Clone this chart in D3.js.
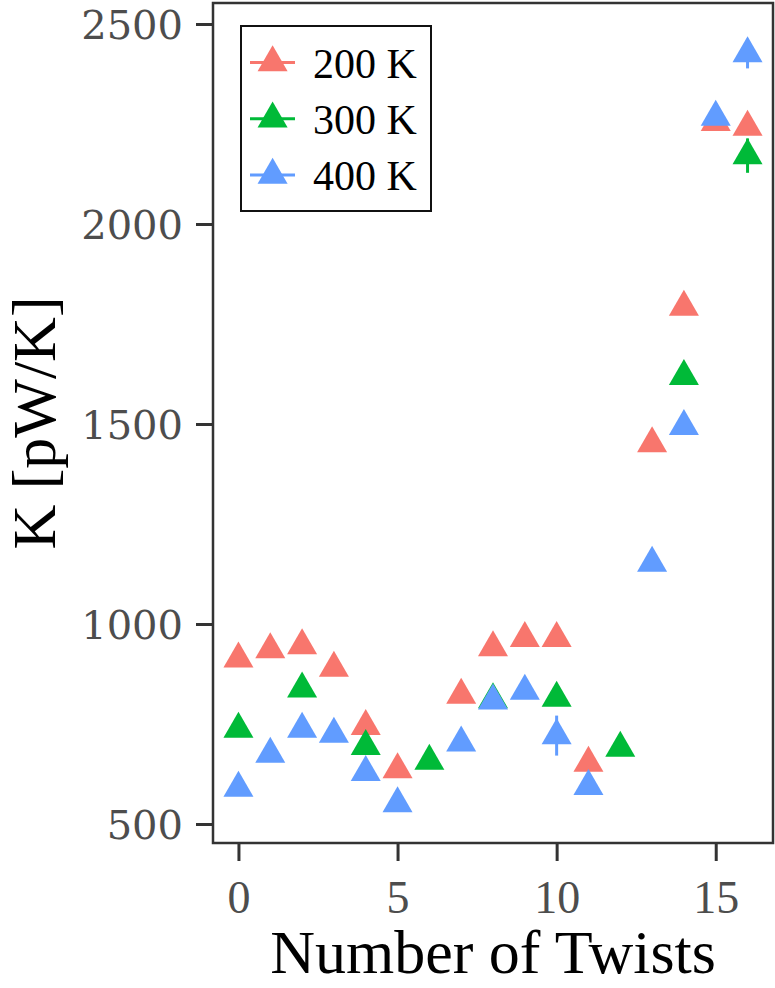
<!DOCTYPE html>
<html>
<head>
<meta charset="utf-8">
<script src="https://cdn.jsdelivr.net/npm/d3@7"></script>
<style>
  body { margin: 0; background: #fff; }
</style>
</head>
<body>
<script>
// Данные: значения
const twists = [0, 1, 2, 3, 4, 5, 6, 7, 8, 9, 10, 11, 12, 13, 14, 15, 16];
const k200 = [913, 936, 946, 890, 744, 636, null, 822, 941, 964, 964, 652, null, 1451, 1792, 2254, 2242];
const k300 = [737, null, 838, null, 694, null, 657, null, 811, null, 815, null, 690, null, 1619, null, 2171];
const k400 = [590, 675, 737, 725, 629, 551, null, 703, 808, 832, 721, 594, null, 1152, 1494, 2267, 2426];
const err200 = [12, 12, 12, 12, 12, 12, null, 12, 12, 12, 12, 12, null, 15, 15, 15, 15];
const err300 = [12, null, 12, null, 12, null, 12, null, 12, null, 12, null, 12, null, 15, null, 43];
const err400 = [12, 12, 12, 12, 12, 12, null, 12, 12, 12, 50, 12, null, 15, 15, 15, 37];
const seriesNames = ["200 K", "300 K", "400 K"];
const seriesColors = ["#F8766D", "#00BA38", "#619CFF"];
const xTicks = [0, 5, 10, 15];
const yTicks = [500, 1000, 1500, 2000, 2500];

const width = 775, height = 988;
const panel = {left: 213, right: 773, top: 3, bottom: 843};

const svg = d3.select("body")
    .append("svg")
    .attr("width", width)
    .attr("height", height);

const x = d3.scaleLinear().domain([-0.8, 16.8]).range([panel.left, panel.right]);
const y = d3.scaleLinear().domain([452.5, 2552.5]).range([panel.bottom, panel.top]);

const series = [k200, k300, k400].map(function (vals, i) {
    const errs = [err200, err300, err400][i];
    return {
        name: seriesNames[i],
        color: seriesColors[i],
        points: twists
            .map(function (t, j) { return {t: t, v: vals[j], e: errs[j]}; })
            .filter(function (d) { return d.v !== null; })
    };
});

// оси
const xAxis = svg.append("g")
    .attr("transform", "translate(0," + panel.bottom + ")")
    .call(d3.axisBottom(x).tickValues(xTicks).tickSize(18).tickSizeOuter(0));
xAxis.select(".domain").remove();
xAxis.selectAll("line").attr("stroke", "#333").attr("stroke-width", 3);
xAxis.selectAll("text")
    .attr("y", 70)
    .attr("dy", null)
    .attr("fill", "#4d4d4d")
    .attr("font-family", "Liberation Serif")
    .attr("font-size", "46px");

const yAxis = svg.append("g")
    .attr("transform", "translate(" + panel.left + ",0)")
    .call(d3.axisLeft(y).tickValues(yTicks).tickFormat(d3.format("d")).tickSize(17).tickSizeOuter(0));
yAxis.select(".domain").remove();
yAxis.selectAll("line").attr("stroke", "#333").attr("stroke-width", 3);
yAxis.selectAll("text")
    .attr("x", -30)
    .attr("dy", "0.36em")
    .attr("fill", "#4d4d4d")
    .attr("font-family", "DejaVu Serif")
    .attr("font-size", "40px");

// рамка панели
svg.append("rect")
    .attr("x", panel.left)
    .attr("y", panel.top)
    .attr("width", panel.right - panel.left)
    .attr("height", panel.bottom - panel.top)
    .attr("fill", "none")
    .attr("stroke", "#333")
    .attr("stroke-width", 2.5);

const tri = d3.symbol().type(d3.symbolTriangle).size(390);

const groups = svg.selectAll("g.series")
    .data(series)
    .enter()
    .append("g")
    .attr("class", "series");

groups.selectAll("line.err")
    .data(function (d) { return d.points.map(function (p) { return Object.assign({color: d.color}, p); }); })
    .enter()
    .append("line")
    .attr("class", "err")
    .attr("x1", function (d) { return x(d.t); })
    .attr("x2", function (d) { return x(d.t); })
    .attr("y1", function (d) { return y(d.v + d.e); })
    .attr("y2", function (d) { return y(d.v - d.e); })
    .attr("stroke", function (d) { return d.color; })
    .attr("stroke-width", 3);

groups.selectAll("path.pt")
    .data(function (d) { return d.points.map(function (p) { return Object.assign({color: d.color}, p); }); })
    .enter()
    .append("path")
    .attr("class", "pt")
    .attr("d", tri)
    .attr("transform", function (d) { return "translate(" + x(d.t) + "," + y(d.v) + ")"; })
    .attr("fill", function (d) { return d.color; });

// легенда
const legend = svg.append("g");
legend.append("rect")
    .attr("x", 241)
    .attr("y", 26)
    .attr("width", 190)
    .attr("height", 185)
    .attr("fill", "#fff")
    .attr("stroke", "#111")
    .attr("stroke-width", 2);

const items = legend.selectAll("g.item")
    .data(series)
    .enter()
    .append("g")
    .attr("class", "item")
    .attr("transform", function (d, i) { return "translate(0," + (62.5 + i * 56.3) + ")"; });

items.append("line")
    .attr("x1", 250).attr("x2", 295)
    .attr("y1", 0).attr("y2", 0)
    .attr("stroke", function (d) { return d.color; })
    .attr("stroke-width", 3);
items.append("path")
    .attr("d", tri)
    .attr("transform", "translate(272.6,0)")
    .attr("fill", function (d) { return d.color; });
items.append("text")
    .attr("x", 313)
    .attr("y", 15)
    .text(function (d) { return d.name; })
    .attr("font-family", "Liberation Serif")
    .attr("font-size", "42px")
    .attr("fill", "#000");

// подписи осей
svg.append("text")
    .attr("x", (panel.left + panel.right) / 2)
    .attr("y", 973)
    .attr("text-anchor", "middle")
    .attr("font-family", "Liberation Serif")
    .attr("font-size", "62px")
    .attr("fill", "#000")
    .text("Number of Twists");

svg.append("text")
    .attr("transform", "translate(55," + (panel.top + panel.bottom) / 2 + ") rotate(-90)")
    .attr("text-anchor", "middle")
    .attr("font-family", "Liberation Serif")
    .attr("font-size", "62px")
    .attr("fill", "#000")
    .text("K [pW/K]");
</script>
</body>
</html>
